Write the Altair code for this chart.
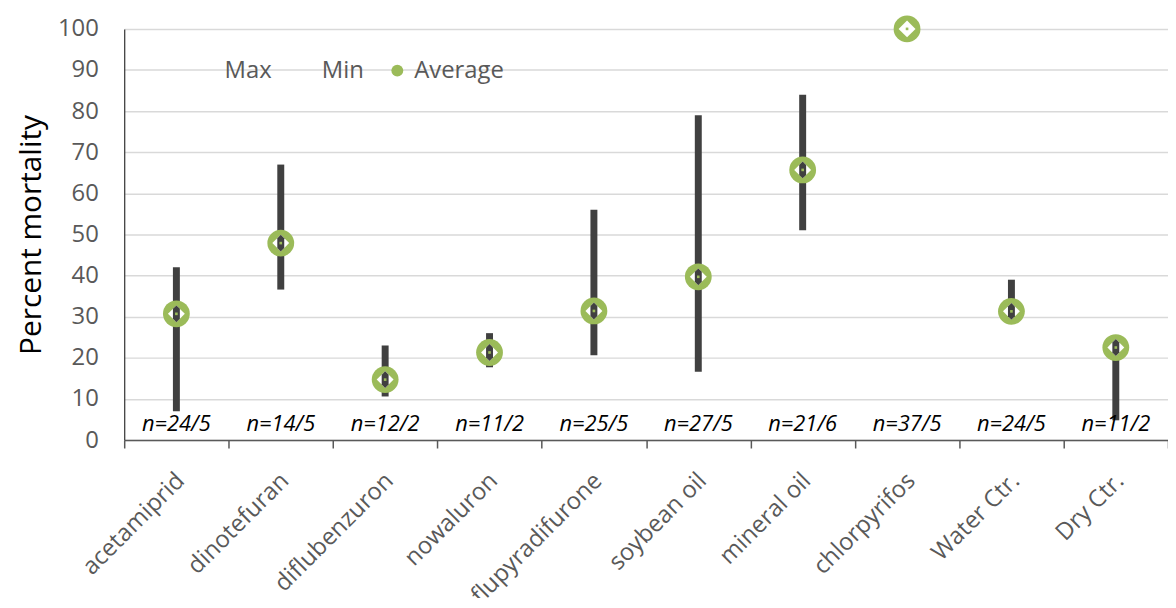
import altair as alt
import pandas as pd

categories = ["acetamiprid", "dinotefuran", "diflubenzuron", "nowaluron", "flupyradifurone",
              "soybean oil", "mineral oil", "chlorpyrifos", "Water Ctr.", "Dry Ctr."]
max_vals = [42, 67, 23, 26, 56, 79, 84, 100, 39, 23.5]
min_vals = [7, 36.6, 10.6, 17.7, 20.6, 16.6, 51, 100, 29, 4.8]
avg_vals = [30.7, 47.9, 14.7, 21.3, 31.4, 39.7, 65.7, 100, 31.3, 22.5]
n_labels = ["n=24/5", "n=14/5", "n=12/2", "n=11/2", "n=25/5",
            "n=27/5", "n=21/6", "n=37/5", "n=24/5", "n=11/2"]
series_names = ["Max", "Min", "Average"]

df = pd.DataFrame({
    "category": categories,
    "max": max_vals,
    "min": min_vals,
    "avg": avg_vals,
    "n": n_labels,
    "series": ["Average"] * len(categories),
})

GREEN = "#9BBB59"
DARK = "#404040"
GRAY = "#595959"
FONT = "Open Sans"

x_enc = alt.X(
    "category:N", sort=categories,
    scale=alt.Scale(type="band", paddingInner=0, paddingOuter=0),
    axis=alt.Axis(
        title=None, labelAngle=-45, labelAlign="right", labelBaseline="middle",
        labelFont=FONT, labelFontSize=24, labelColor=GRAY, labelLimit=400,
        labelPadding=29, labelOffset=4, tickBand="extent", tickSize=8, tickColor=GRAY,
        tickWidth=1.5, domainColor=GRAY, domainWidth=1.5, grid=False,
    ),
)

y_axis = alt.Axis(
    values=list(range(0, 101, 10)), title="Percent mortality", titleFont=FONT,
    titleFontSize=30, titleFontWeight="normal", titleColor="black", titlePadding=11,
    labelFont=FONT, labelFontSize=24, labelColor=GRAY, ticks=False, labelPadding=26,
    grid=True, gridColor="#d9d9d9", gridWidth=1.5, domainColor=DARK, domainWidth=1.3,
)
y_scale = alt.Scale(domain=[0, 100], nice=False)

base = alt.Chart(df)

bars = base.mark_rule(color=DARK, strokeWidth=7, strokeCap="butt").encode(
    x=x_enc,
    y=alt.Y("min:Q", scale=y_scale, axis=y_axis),
    y2="max:Q",
)

ring = base.mark_point(filled=True, shape="circle", size=729, opacity=1, strokeWidth=0).encode(
    x=x_enc,
    y=alt.Y("avg:Q", scale=y_scale, axis=y_axis),
    color=alt.Color(
        "series:N",
        scale=alt.Scale(domain=series_names, range=["rgba(0,0,0,0)", "rgba(0,0,0,0)", GREEN]),
        legend=alt.Legend(
            title=None, orient="none", legendX=72, legendY=30, direction="horizontal",
            labelFont=FONT, labelFontSize=24, labelColor=GRAY, symbolType="circle",
            symbolSize=144, labelOffset=5, columnPadding=21, padding=0,
            symbolStrokeWidth=0,
        ),
    ),
)

diamond = base.mark_point(filled=True, shape="diamond", size=289, opacity=1,
                          color="white", strokeWidth=0).encode(
    x=x_enc,
    y=alt.Y("avg:Q", scale=y_scale, axis=y_axis),
)

inner = base.transform_filter("datum.max > datum.min").mark_point(
    filled=True, opacity=1, color=DARK, strokeWidth=0, size=289,
    shape="M-0.41,-0.59L0,-1L0.41,-0.59L0.41,0.59L0,1L-0.41,0.59Z",
).encode(
    x=x_enc,
    y=alt.Y("avg:Q", scale=y_scale, axis=y_axis),
)

dot = base.mark_point(filled=True, shape="square", size=7, opacity=1,
                      color=GREEN, strokeWidth=0).encode(
    x=x_enc,
    y=alt.Y("avg:Q", scale=y_scale, axis=y_axis),
)

nlab = base.mark_text(font=FONT, fontSize=22, fontStyle="italic", color="black",
                      align="center", baseline="middle").encode(
    x=x_enc,
    y=alt.datum(3.9),
    text="n:N",
)

chart = alt.layer(bars, ring, diamond, inner, dot, nlab).properties(
    width=1051, height=414,
    autosize=alt.AutoSizeParams(type="none"),
    padding={"left": 117, "top": 19, "right": 0, "bottom": 157},
).configure_view(stroke=None)

chart.save("out.html", embed_options={"renderer": "svg", "actions": False})
